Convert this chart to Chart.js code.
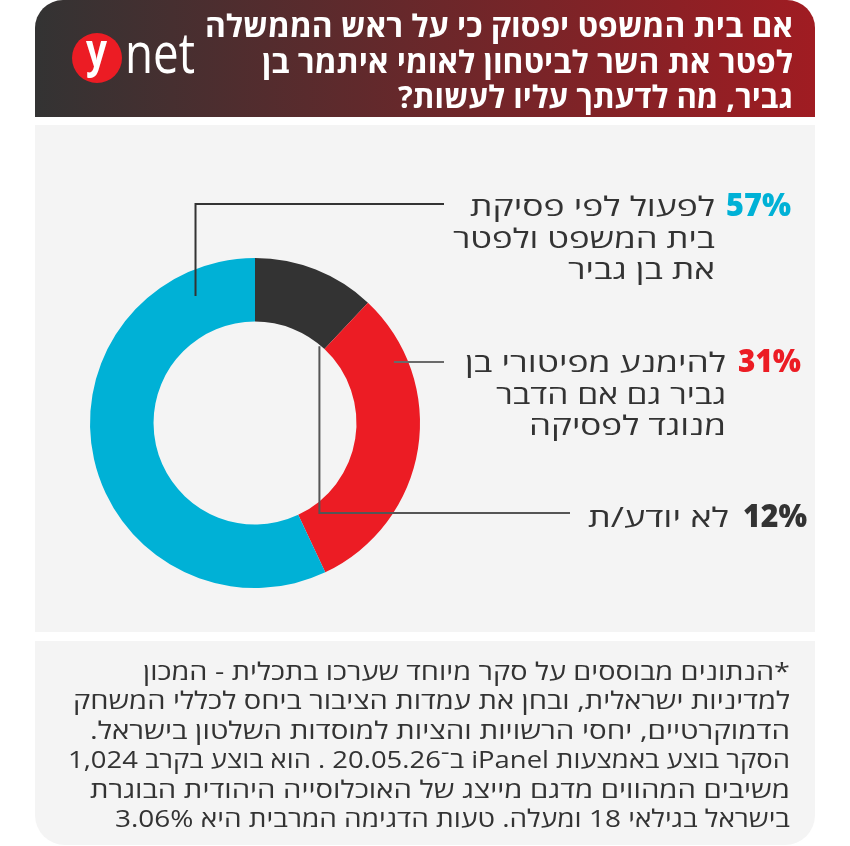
<!DOCTYPE html>
<html lang="he" dir="rtl">
<head>
<meta charset="utf-8">
<script src="https://cdn.jsdelivr.net/npm/chart.js@4.4.1/dist/chart.umd.min.js"></script>
<style>
  html, body { margin: 0; padding: 0; background: #fff; }
  #sekerChart { display: block; }
</style>
</head>
<body>
<canvas id="sekerChart" width="850" height="846"></canvas>
<script>

/*DATA*/
var categories = ["לא יודע/ת", "להימנע מפיטורי בן גביר גם אם הדבר מנוגד לפסיקה", "לפעול לפי פסיקת בית המשפט ולפטר את בן גביר"];
var percents = [12, 31, 57];
var percentLabels = ["12%", "31%", "57%"];
var labelLines = [
  ["לא יודע/ת"],
  ["להימנע מפיטורי בן", "גביר גם אם הדבר", "מנוגד לפסיקה"],
  ["לפעול לפי פסיקת", "בית המשפט ולפטר", "את בן גביר"]
];
var titleLines = [
  "אם בית המשפט יפסוק כי על ראש הממשלה",
  "לפטר את השר לביטחון לאומי איתמר בן",
  "גביר, מה לדעתך עליו לעשות?"
];
var noteLines = [
  "*הנתונים מבוססים על סקר מיוחד שערכו בתכלית - המכון",
  "למדיניות ישראלית, ובחן את עמדות הציבור ביחס לכללי המשחק",
  "הדמוקרטיים, יחסי הרשויות והציות למוסדות השלטון בישראל.",
  "הסקר בוצע באמצעות iPanel ב\u05BE20.05.26 . הוא בוצע בקרב 1,024",
  "משיבים המהווים מדגם מייצג של האוכלוסייה היהודית הבוגרת",
  "בישראל בגילאי 18 ומעלה. טעות הדגימה המרבית היא 3.06%"
];
/*DATA*/

var sliceColors = ["#333333", "#ec1c24", "#00b1d6"];
var FONT = '"Open Sans", "DejaVu Sans", sans-serif';

/* label layout: pct right edge, text right edge, first baseline, widths */
var labelLayout = [
  { pctRight: 807, pctW: 64, textRight: 729, base: 527, widths: [141], lineY: 513, lineEnd: 570, angle: 40, rFrac: -0.02, elbow: true },
  { pctRight: 801, pctW: 63, textRight: 726, base: 372, widths: [261, 230, 197], lineY: 362, lineEnd: 444, angle: 66.3, rFrac: 0.79, elbow: false },
  { pctRight: 791, pctW: 65, textRight: 715, base: 216, widths: [245, 262, 147], lineY: 204, lineEnd: 444, angle: 334.9, rFrac: 0.61, elbow: true }
];
var lineColors = ["#555555", "#6a6a6a", "#333333"];
var titleWidths = [588, 531, 395];
var noteWidths = [647, 717, 700, 722, 700, 675];

function fitText(ctx, text, right, base, width, rtl) {
  ctx.save();
  ctx.direction = rtl ? "rtl" : "ltr";
  ctx.textAlign = "right";
  ctx.textBaseline = "alphabetic";
  var w = ctx.measureText(text).width;
  ctx.translate(right, base);
  ctx.scale(width / w, 1);
  ctx.fillText(text, 0, 0);
  ctx.restore();
}

function roundBox(ctx, x, y, w, h, rTop, rBottom) {
  ctx.beginPath();
  ctx.moveTo(x + rTop, y);
  ctx.lineTo(x + w - rTop, y);
  ctx.arcTo(x + w, y, x + w, y + rTop, rTop);
  ctx.lineTo(x + w, y + h - rBottom);
  ctx.arcTo(x + w, y + h, x + w - rBottom, y + h, rBottom);
  ctx.lineTo(x + rBottom, y + h);
  ctx.arcTo(x, y + h, x, y + h - rBottom, rBottom);
  ctx.lineTo(x, y + rTop);
  ctx.arcTo(x, y, x + rTop, y, rTop);
  ctx.closePath();
}

/*ARKA PLAN*/
var backgroundPlugin = {
  id: "cardBackground",
  beforeDraw: function (chart) {
    var ctx = chart.ctx;
    ctx.save();
    ctx.fillStyle = "#ffffff";
    ctx.fillRect(0, 0, 850, 846);

    var grad = ctx.createLinearGradient(35, 0, 815, 0);
    grad.addColorStop(0, "#333333");
    grad.addColorStop(1, "#a01c22");
    ctx.fillStyle = grad;
    roundBox(ctx, 35, 0, 780, 117, 28, 0);
    ctx.fill();

    ctx.fillStyle = "#f4f4f4";
    ctx.fillRect(35, 125, 780, 507);

    roundBox(ctx, 35, 641, 780, 204, 0, 30);
    ctx.fill();
    ctx.restore();
  }
};

/*YAZILAR VE ÇİZGİLER*/
var overlayPlugin = {
  id: "overlayTexts",
  afterDatasetsDraw: function (chart) {
    var ctx = chart.ctx;
    var arcs = chart.getDatasetMeta(0).data;
    ctx.save();

    /* leader lines */
    for (var i = 0; i < labelLayout.length; i++) {
      var L = labelLayout[i];
      var a = arcs[i];
      var r = a.innerRadius + (a.outerRadius - a.innerRadius) * L.rFrac;
      var t = L.angle * Math.PI / 180;
      var sx = a.x + r * Math.sin(t);
      var sy = a.y - r * Math.cos(t);
      ctx.strokeStyle = lineColors[i];
      ctx.lineWidth = 2;
      ctx.beginPath();
      ctx.moveTo(sx, sy);
      if (L.elbow) {
        ctx.lineTo(sx, L.lineY);
      }
      ctx.lineTo(L.lineEnd, L.lineY);
      ctx.stroke();
    }

    /* labels */
    for (var j = 0; j < labelLayout.length; j++) {
      var K = labelLayout[j];
      ctx.fillStyle = sliceColors[j];
      ctx.font = "800 32px " + FONT;
      fitText(ctx, percentLabels[j], K.pctRight, K.base, K.pctW, false);
      ctx.fillStyle = "#333333";
      ctx.font = "500 27px " + FONT;
      for (var k = 0; k < labelLines[j].length; k++) {
        fitText(ctx, labelLines[j][k], K.textRight, K.base + k * 31.5, K.widths[k], true);
      }
    }

    /* title */
    ctx.fillStyle = "#ffffff";
    ctx.font = "bold 31px " + FONT;
    for (var m = 0; m < titleLines.length; m++) {
      fitText(ctx, titleLines[m], 793, 37 + m * 35.5, titleWidths[m], true);
    }

    /* logo */
    ctx.fillStyle = "#ec1c24";
    ctx.beginPath();
    ctx.arc(97, 58, 25, 0, Math.PI * 2);
    ctx.fill();
    ctx.fillStyle = "#ffffff";
    ctx.font = "bold 46px " + FONT;
    fitText(ctx, "y", 107, 67, 21, false);
    ctx.font = "56px " + FONT;
    fitText(ctx, "net", 195, 73, 70, false);

    /* footnote */
    ctx.fillStyle = "#333333";
    ctx.font = "24px " + FONT;
    for (var n = 0; n < noteLines.length; n++) {
      fitText(ctx, noteLines[n], 790, 680 + n * 29.4, noteWidths[n], true);
    }
    ctx.restore();
  }
};

var ctx = document.getElementById("sekerChart");
var myChart = new Chart(ctx, {
  type: "doughnut",
  data: {
    labels: categories,
    datasets: [{
      data: percents,
      backgroundColor: sliceColors,
      borderWidth: 0
    }]
  },
  options: {
    responsive: false,
    animation: false,
    cutout: "61.5%",
    layout: { padding: { left: 90, right: 430, top: 258, bottom: 258 } },
    plugins: {
      legend: { display: false },
      tooltip: { enabled: false }
    }
  },
  plugins: [backgroundPlugin, overlayPlugin]
});

</script>
</body>
</html>
